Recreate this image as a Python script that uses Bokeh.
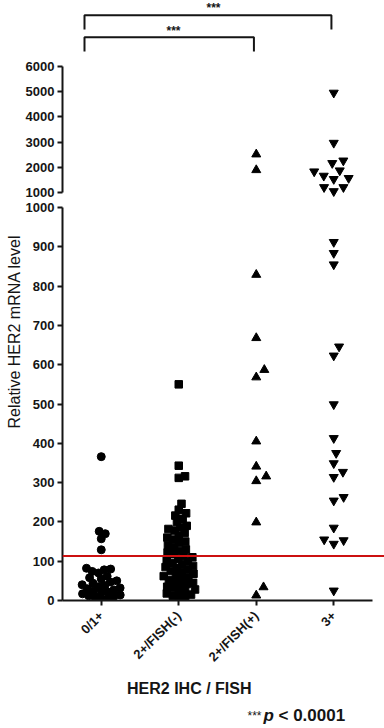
import math
from bokeh.plotting import figure
from bokeh.layouts import column
from bokeh.models import FixedTicker, Span, Label, Range1d, Title
from bokeh.embed import file_html
from bokeh.resources import INLINE

# ---------------- data ----------------
categories = ["0/1+", "2+/FISH(-)", "2+/FISH(+)", "3+"]
ihc_0_1 = [366, 176, 170, 157, 129, 82, 80, 78, 74, 70, 62, 58, 55, 50, 47,
           44, 40, 38, 35, 32, 30, 27, 24, 22, 20, 17, 14, 12, 10,
           8, 5, 3]
ihc_2_fish_neg = [550, 343, 316, 312, 246, 231, 222, 216, 208, 200, 190, 186,
                  182, 178, 172, 165, 160, 155, 150, 146, 140, 135, 130, 126,
                  122, 118, 114, 110, 106, 102, 98, 95, 92, 88, 85, 82, 78, 75,
                  72, 68, 65, 62, 58, 55, 52, 48, 45, 42, 38, 35, 32, 28, 25,
                  22, 18, 15, 12, 8, 5]
ihc_2_fish_pos = [2520, 1900, 829, 668, 587, 568, 405, 341, 316, 304, 199, 34, 13]
ihc_3 = [4950, 2970, 2270, 2170, 1880, 1840, 1670, 1580, 1540, 1220, 1220, 1060,
         912, 884, 855, 646, 623, 499, 413, 375, 349, 327, 314, 263, 254, 185,
         155, 153, 144, 25]
cutoff_value = 113
low_ticks = [0, 100, 200, 300, 400, 500, 600, 700, 800, 900, 1000]
high_ticks = [1000, 2000, 3000, 4000, 5000, 6000]
break_value = 1000
y_title = "Relative HER2 mRNA level"
x_title = "HER2  IHC / FISH"
p_stars = "***"
p_symbol = "p"
p_rest = "< 0.0001"

# ---------------- layout constants ----------------
W = 384
LEFT = 62
CAT_PX = 77.5
TOP_H = 200
TOP_BASE_PX = 192.3          # pixel row of 1000 in the upper panel
TOP_SCALE = 0.02532          # px per unit, upper panel
BOT_BORDER_TOP = 7
BOT_FRAME = 393
BOT_BORDER_BOTTOM = 74
BOT_H = BOT_BORDER_TOP + BOT_FRAME + BOT_BORDER_BOTTOM
BOT_SCALE = BOT_FRAME / 1000.0
FOOT_H = 728 - TOP_H - BOT_H
FOOT_Y0 = TOP_H + BOT_H      # absolute pixel row where the footer starts

INK = "#151515"
FONT = "Liberation Sans"

x_start = -0.5
x_end = x_start + (W - LEFT) / CAT_PX


def xd(px):
    return (px - LEFT) / CAT_PX + x_start


def yd_top(py):
    return break_value + (TOP_BASE_PX - py) / TOP_SCALE


def swarm(vals, scale, d):
    """deterministic beeswarm: horizontal pixel offsets for each value"""
    order = sorted(range(len(vals)), key=lambda i: vals[i])
    placed = []
    offs = [0.0] * len(vals)
    for i in order:
        y = vals[i] * scale
        cands = [0.0]
        for xj, yj in placed:
            dy = abs(y - yj)
            if dy < d:
                dx = math.sqrt(d * d - dy * dy)
                cands += [xj + dx + 1e-6, xj - dx - 1e-6]
        cands.sort(key=lambda c: (round(abs(c), 6), -c))
        for c in cands:
            if all((c - xj) ** 2 + (y - yj) ** 2 >= d * d - 1e-6 for xj, yj in placed):
                offs[i] = c
                placed.append((c, y))
                break
    return offs


def style_axis(ax):
    ax.axis_line_width = 2
    ax.axis_line_color = INK
    ax.major_tick_line_width = 2
    ax.major_tick_line_color = INK
    ax.major_tick_out = 5
    ax.major_tick_in = 0
    ax.minor_tick_line_color = None
    ax.major_label_text_font = FONT
    ax.major_label_text_font_style = "bold"
    ax.major_label_text_font_size = "13px"
    ax.major_label_text_color = INK


# ---------------- upper panel (1000 - 6000) ----------------
p_top = figure(width=W, height=TOP_H, output_backend="svg", toolbar_location=None,
               x_range=Range1d(x_start, x_end),
               y_range=Range1d(yd_top(TOP_H), yd_top(0)),
               min_border_left=LEFT, min_border_right=0,
               min_border_top=0, min_border_bottom=0)
p_top.xaxis.visible = False
p_top.grid.visible = False
p_top.outline_line_color = None
p_top.yaxis.bounds = (high_ticks[0], high_ticks[-1])
p_top.yaxis.ticker = FixedTicker(ticks=high_ticks)
p_top.yaxis.major_label_standoff = 3
style_axis(p_top.yaxis)

# ---------------- lower panel (0 - 1000) ----------------
p_bot = figure(width=W, height=BOT_H, output_backend="svg", toolbar_location=None,
               x_range=Range1d(x_start, x_end), y_range=Range1d(0, break_value),
               min_border_left=LEFT, min_border_right=0,
               min_border_top=BOT_BORDER_TOP, min_border_bottom=BOT_BORDER_BOTTOM)
p_bot.grid.visible = False
p_bot.outline_line_color = None
p_bot.yaxis.bounds = (low_ticks[0], low_ticks[-1])
p_bot.yaxis.ticker = FixedTicker(ticks=low_ticks)
p_bot.yaxis.major_label_standoff = 3
style_axis(p_bot.yaxis)
p_bot.xaxis.bounds = (-0.5, len(categories) - 0.5)
p_bot.xaxis.ticker = FixedTicker(ticks=list(range(len(categories))))
p_bot.xaxis.major_label_overrides = {i: c for i, c in enumerate(categories)}
p_bot.xaxis.major_label_orientation = math.pi / 4
p_bot.xaxis.major_label_standoff = 8
style_axis(p_bot.xaxis)

# y-axis title, centred on the whole broken axis
p_bot.add_layout(Title(text=y_title, align="left", offset=172, standoff=0,
                       text_font=FONT, text_font_size="16px",
                       text_font_style="normal", text_color=INK), "left")

# ---------------- points ----------------
groups = [
    (ihc_0_1, "circle", 8, 6.5),
    (ihc_2_fish_neg, "square", 7.5, 6.5),
    (ihc_2_fish_pos, "triangle", 9, 11.0),
    (ihc_3, "inverted_triangle", 9, 10.5),
]
for gi, (vals, marker, size, dist) in enumerate(groups):
    low = [v for v in vals if v <= break_value]
    high = [v for v in vals if v > break_value]
    if low:
        offs = swarm(low, BOT_SCALE, dist)
        p_bot.scatter(x=[gi + o / CAT_PX for o in offs], y=low, marker=marker,
                      size=size, fill_color="black", line_color="black", line_width=1)
    if high:
        offs = swarm(high, TOP_SCALE, dist)
        p_top.scatter(x=[gi + o / CAT_PX for o in offs], y=high, marker=marker,
                      size=size, fill_color="black", line_color="black", line_width=1)

# cut-off line
p_bot.add_layout(Span(location=cutoff_value, dimension="width",
                      line_color="#cc1010", line_width=2))

# ---------------- significance brackets ----------------
bx0 = xd(84)
for right_cat, py_top, py_leg, star_px, star_py in [
        (3, 14.7, 29.0, 213, 7.5), (2, 36.7, 51.0, 173, 30.5)]:
    p_top.line(x=[bx0, bx0, right_cat - 0.03, right_cat - 0.03],
               y=[yd_top(py_leg), yd_top(py_top), yd_top(py_top), yd_top(py_leg)],
               line_color=INK, line_width=2)
    p_top.add_layout(Label(x=xd(star_px), y=yd_top(star_py), text=p_stars,
                           text_align="center", text_baseline="middle",
                           text_font=FONT, text_font_size="12px",
                           text_font_style="bold", text_color=INK))

# ---------------- footer: x title and p value ----------------
# (the column aligns this frame with the plots above, so it spans LEFT..W)
p_foot = figure(width=W, height=FOOT_H, output_backend="svg", toolbar_location=None,
                x_range=Range1d(LEFT, W), y_range=Range1d(FOOT_H, 0),
                min_border_left=0, min_border_right=0,
                min_border_top=0, min_border_bottom=0)
p_foot.axis.visible = False
p_foot.grid.visible = False
p_foot.outline_line_color = None
p_foot.add_layout(Label(x=191, y=688 - FOOT_Y0, text=x_title,
                        text_align="center", text_baseline="alphabetic",
                        text_font=FONT, text_font_size="16px",
                        text_font_style="bold", text_color=INK))
p_foot.add_layout(Label(x=247, y=715 - FOOT_Y0, text=p_stars,
                        text_align="left", text_baseline="alphabetic",
                        text_font=FONT, text_font_size="12px", text_color=INK))
p_foot.add_layout(Label(x=263, y=715 - FOOT_Y0, text=p_symbol,
                        text_align="left", text_baseline="alphabetic",
                        text_font=FONT, text_font_size="17px",
                        text_font_style="bold italic", text_color=INK))
p_foot.add_layout(Label(x=278, y=715 - FOOT_Y0, text=p_rest,
                        text_align="left", text_baseline="alphabetic",
                        text_font=FONT, text_font_size="17px",
                        text_font_style="bold", text_color=INK))

layout = column(p_top, p_bot, p_foot, spacing=0)
open("out.html", "w").write(file_html(layout, INLINE))
